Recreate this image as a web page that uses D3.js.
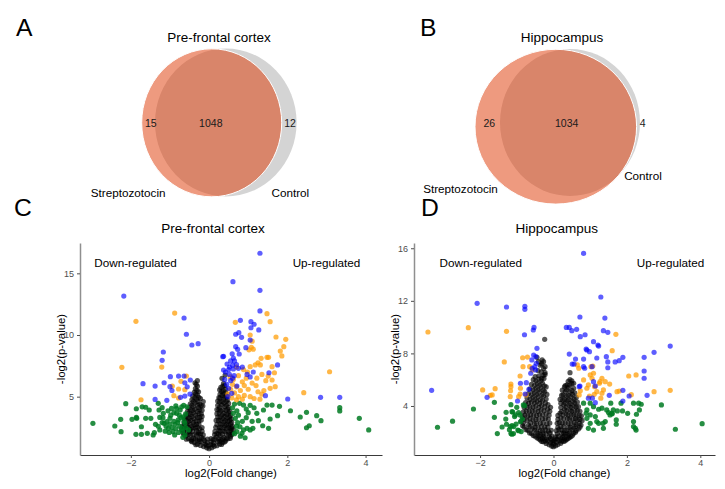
<!DOCTYPE html>
<html>
<head>
<meta charset="utf-8">
<script src="https://cdn.jsdelivr.net/npm/d3@7"></script>
<style>
  body { margin: 0; background: #fff; }
  text { font-family: "Liberation Sans", Arial, Helvetica, sans-serif; }
</style>
</head>
<body>
<svg width="725" height="489"></svg>
<script>
// ---- venn data ----
const vennSets = ["Streptozotocin", "Control"];
const pfcCounts = [15, 1048, 12];   // strep only, both, control only
const hipCounts = [26, 1034, 4];

// ---- volcano data: [log2 fold change, -log2 p] ----
const xTicks = [-2, 0, 2, 4];
const pfcYTicks = [5, 10, 15];
const hipYTicks = [4, 8, 12, 16];

const pfcBlack = [
  [0.00,0.78],[-0.06,0.85],[0.07,0.86],[-0.14,0.95],[0.13,0.97],[-0.22,1.05],[0.2,1.02],[-0.02,1.0],[0.04,1.12],
  [-0.3,1.15],[0.27,1.14],[-0.1,1.18],[0.12,1.25],[-0.38,1.28],[0.34,1.27],[-0.2,1.32],[0.22,1.36],[-0.46,1.42],
  [0.42,1.4],[-0.3,1.48],[0.3,1.5],[-0.12,1.45],[0.1,1.52],[-0.53,1.6],[0.48,1.58],[-0.4,1.65],[0.38,1.68],
  [-0.2,1.7],[0.18,1.72],[-0.6,1.82],[0.55,1.8],[-0.48,1.9],[0.45,1.92],[-0.32,1.88],[0.28,1.86],[-0.22,1.98],
  [0.2,2.0],[-0.66,2.05],[0.6,2.04],[-0.55,2.12],[0.5,2.15],[-0.42,2.18],[0.36,2.2],[-0.28,2.1],[0.25,2.24],
  [-0.7,2.32],[0.62,2.3],[-0.6,2.4],[0.54,2.42],[-0.48,2.35],[0.44,2.38],[-0.35,2.45],[0.3,2.5],[-0.24,2.4],
  [-0.68,2.62],[0.6,2.6],[-0.56,2.68],[0.5,2.7],[-0.44,2.6],[0.4,2.66],[-0.32,2.75],[0.28,2.8],
  [-0.64,2.9],[0.58,2.92],[-0.52,2.98],[0.48,3.0],[-0.4,2.92],[0.38,2.95],[-0.26,3.02],[0.24,3.05],
  [-0.62,3.2],[0.57,3.18],[-0.5,3.26],[0.46,3.28],[-0.38,3.2],[0.35,3.22],[-0.24,3.3],[0.22,3.35],
  [-0.58,3.5],[0.55,3.48],[-0.46,3.56],[0.45,3.58],[-0.34,3.5],[0.33,3.52],[-0.2,3.6],[0.2,3.62],
  [-0.55,3.82],[0.53,3.8],[-0.42,3.88],[0.43,3.9],[-0.3,3.8],[0.3,3.85],[-0.18,3.9],[0.2,3.95],
  [-0.52,4.1],[0.5,4.12],[-0.4,4.18],[0.4,4.2],[-0.27,4.12],[0.27,4.15],[-0.16,4.25],
  [-0.48,4.42],[0.5,4.45],[-0.36,4.5],[0.38,4.48],[-0.24,4.4],[0.27,4.55],[-0.15,4.6],
  [-0.44,4.75],[0.47,4.72],[-0.32,4.8],[0.37,4.82],[-0.22,4.85],[0.28,4.9],
  [-0.42,5.05],[0.45,5.02],[-0.3,5.12],[0.33,5.1],[-0.38,5.35],[0.43,5.3],[-0.27,5.4],[0.32,5.42],
  [-0.35,5.65],[0.42,5.62],[0.3,5.75],[-0.33,6.0],[0.37,6.08],[0.4,5.9],[-0.36,6.12],
  [-0.3,6.3],[0.33,6.49],[0.41,6.75],
  // denser fill of the V
  [-0.34,1.1],[-0.08,1.08],[0.1,1.1],[0.32,1.12],[-0.44,1.35],[-0.25,1.37],[-0.05,1.3],[0.05,1.33],[0.27,1.38],
  [0.39,1.33],[-0.58,1.55],[-0.45,1.53],[-0.35,1.57],[-0.25,1.54],[-0.15,1.58],[-0.04,1.56],[0.05,1.6],[0.15,1.55],
  [0.25,1.57],[0.35,1.53],[0.44,1.58],[0.54,1.62],[-0.64,1.95],[-0.52,1.97],[-0.4,1.93],[-0.27,1.96],[-0.15,1.9],
  [0.14,1.93],[0.24,1.97],[0.34,1.95],[0.5,1.98],[0.58,1.93],[-0.65,2.22],[-0.5,2.2],[-0.32,2.24],[-0.18,2.2],
  [0.15,2.18],[0.28,2.22],[0.4,2.2],[0.56,2.24],[-0.64,2.5],[-0.54,2.52],[-0.42,2.48],[-0.3,2.53],[-0.18,2.5],
  [0.17,2.52],[0.26,2.48],[0.38,2.52],[0.5,2.5],[0.58,2.47],[-0.62,2.76],[-0.5,2.78],[-0.38,2.74],[-0.26,2.77],
  [0.2,2.74],[0.33,2.78],[0.45,2.75],[0.55,2.79],[-0.58,3.06],[-0.46,3.08],[-0.33,3.04],[-0.2,3.1],[0.18,3.07],
  [0.3,3.1],[0.42,3.05],[0.53,3.08],[-0.56,3.36],[-0.44,3.38],[-0.3,3.34],[-0.18,3.4],[0.28,3.36],[0.4,3.4],
  [0.52,3.35],[-0.52,3.66],[-0.4,3.68],[-0.26,3.64],[0.26,3.68],[0.38,3.64],[0.5,3.68],[-0.48,3.96],[-0.36,3.98],
  [-0.24,3.95],[0.25,3.98],[0.36,3.94],[0.48,3.99],[-0.44,4.3],[-0.3,4.32],[-0.2,4.28],[0.22,4.3],[0.32,4.34],
  [0.44,4.3],[-0.4,4.62],[-0.28,4.6],[0.22,4.64],[0.33,4.6],[0.44,4.62],[-0.36,4.92],[-0.26,4.95],[0.25,4.92],
  [0.4,4.96],[-0.34,5.22],[0.28,5.2],[0.38,5.24],[-0.31,5.52],[0.36,5.5],[0.27,5.56],[-0.3,5.85],[0.35,5.86]
];
const pfcGreen = [
  [-2.97,2.84],[-2.41,2.62],[-2.25,2.16],[-2.26,3.16],[-2.13,4.43],[-1.97,3.16],[-1.87,1.95],[-1.86,4.02],
  [-1.86,3.32],[-1.73,2.56],[-1.73,1.95],[-1.71,4.18],[-1.62,4.14],[-1.62,3.24],[-1.53,3.92],[-1.49,3.24],
  [-1.43,1.89],[-1.37,2.76],[-1.28,3.92],[-1.26,3.32],[-1.26,2.30],[-1.17,3.65],[-1.15,2.84],[-1.08,2.97],
  [-1.04,2.43],[-1.0,3.24],[-0.96,4.05],[-0.92,2.16],[-0.87,2.76],[-0.83,3.65],[-0.79,3.11],[-0.74,3.92],
  [-0.70,2.43],[-0.67,1.70],[-0.66,3.37],[-0.62,2.84],[-0.57,4.18],[-0.53,2.30],[-1.30,4.46],[-1.20,4.11],
  [-0.83,4.05],[-0.70,4.18],[-1.85,3.24],[-1.58,2.03],[-1.40,2.08],
  [-1.3,2.6],[-1.2,2.9],[-1.1,2.6],[-1.0,2.8],[-0.95,2.5],[-0.9,3.0],[-0.85,2.4],[-0.8,2.9],[-0.75,2.6],
  [-0.72,3.3],[-0.68,2.2],[-0.64,3.0],[-0.6,2.5],[-1.12,2.2],[-1.02,2.1],[-0.88,1.9],[-0.78,2.1],[-0.62,1.9],
  [-1.18,3.3],[-0.98,3.5],[-0.9,3.7],[-0.76,3.5],[-0.6,3.6],[-1.05,3.85],[-0.85,4.25],[-0.65,4.3],
  [2.75,3.46],[2.86,3.05],[2.56,2.64],[2.49,2.48],[2.33,3.35],[2.49,3.73],[2.08,3.86],[1.80,4.22],[1.75,3.46],
  [1.56,3.19],[1.52,2.43],[1.37,2.64],[1.26,3.05],[1.22,3.65],[1.05,4.30],[0.88,4.32],[0.78,4.46],[0.71,3.86],
  [0.62,3.65],[0.67,3.24],[0.73,2.89],[0.79,2.56],[0.88,2.30],[0.97,2.43],[1.05,2.30],[0.92,1.67],[1.12,2.43],
  [0.84,2.03],[0.71,2.16],[1.39,3.92],[1.48,4.32],[1.61,4.32],[3.84,3.24],[3.34,4.11],[3.34,3.84],[4.08,2.3],
  [0.65,4.4],[0.7,2.6],[0.75,3.5],[0.85,3.0],[0.95,3.3],[1.0,3.7],[1.1,3.0],[0.65,2.0],[0.8,1.8],[1.15,4.1],
  [0.95,4.0],[0.6,4.1]
];
const pfcOrange = [
  [-0.88,11.78],[-1.87,11.11],[-2.23,7.38],[-1.21,7.4],[-0.58,6.67],[-0.94,5.86],[-0.72,6.24],[-0.78,5.62],
  [-0.9,5.08],[-0.78,4.89],[-1.74,4.75],[-0.62,5.57],
  [1.48,11.73],[1.56,11.08],[0.67,11.03],[1.71,9.84],[1.96,9.65],[1.91,9.05],[1.82,8.70],[1.86,8.30],
  [1.05,10.0],[1.1,9.5],[1.08,9.0],[1.02,8.8],[1.13,8.85],[1.33,8.11],[1.48,8.19],[1.52,8.19],[1.25,7.75],
  [1.31,7.57],[1.18,7.57],[1.05,7.43],[1.61,7.43],[1.67,6.94],[1.51,6.67],[1.61,6.35],[1.69,5.81],[1.56,5.68],
  [3.08,7.02],[2.42,5.32],
  [0.54,6.6],[0.62,6.4],[0.75,6.7],[0.85,6.2],[0.95,6.5],[0.6,6.0],[0.7,5.8],[0.8,5.5],[0.9,5.9],[1.0,5.6],
  [1.1,6.1],[1.2,5.9],[1.25,5.4],[1.35,5.2],[0.65,5.3],[0.75,5.0],[0.9,5.1],[1.05,5.0],[1.15,4.85],[1.3,4.8],
  [0.58,4.9],[0.7,4.75],[1.4,5.5],[1.45,6.3],[0.55,5.6],[0.48,5.2],[0.85,4.8],[1.22,6.5],[0.98,7.0],[0.88,7.2],
  [1.35,6.8],[0.7,7.4]
];
const pfcBlue = [
  [-2.18,13.16],[-0.64,11.38],[-0.58,10.06],[-0.44,9.19],[-0.28,9.3],[-1.17,8.62],[-1.20,7.95],[-1.69,6.05],
  [-1.38,5.86],[-1.15,6.13],[-0.99,6.62],[-1.0,5.81],[-0.78,6.67],[-0.64,6.67],[-0.62,6.13],[-0.48,6.35],
  [-1.38,4.78],[-1.08,4.7],[-0.62,5.05],[-0.49,5.21],[-0.73,4.95],[-0.56,5.8],[-0.95,5.5],
  [1.30,16.63],[0.61,14.32],[1.30,13.62],[1.30,11.95],[0.80,11.19],[1.07,11.08],[1.15,10.87],[1.07,10.59],
  [1.27,10.41],[0.76,10.19],[0.68,10.06],[0.83,9.81],[0.68,9.05],[0.94,8.97],[0.73,8.84],[1.05,9.59],
  [0.37,8.27],[0.59,8.48],[0.62,8.13],[0.77,8.46],[0.46,7.65],[0.52,7.4],[0.6,7.55],[0.5,7.2],[0.62,7.25],
  [0.75,7.3],[0.85,7.4],[0.7,7.6],[0.52,6.8],[0.6,6.5],[0.55,6.3],[0.64,6.7],[0.97,6.8],[1.05,6.6],[1.13,7.0],
  [1.53,6.94],[1.75,7.57],[0.71,5.86],[1.44,5.08],[2.01,4.81],[2.85,4.95],[3.34,4.95],[0.50,5.68],[0.58,5.27],
  [0.35,8.24],[0.37,7.16],[0.45,6.0],[0.48,5.0],[0.42,7.0],[0.4,6.4],[0.55,7.9],[0.65,7.9]
];

const hipBlack = [
  [0.0,0.9],[-0.05,0.95],[0.06,0.98],[-0.12,1.05],[0.12,1.06],[0.0,1.1],[-0.2,1.15],[0.2,1.16],[-0.08,1.2],
  [0.08,1.24],[-0.28,1.28],[0.28,1.3],[-0.16,1.35],[0.17,1.38],[-0.36,1.42],[0.36,1.45],[-0.04,1.4],[0.05,1.5],
  [-0.45,1.58],[0.44,1.6],[-0.25,1.55],[0.25,1.62],[-0.12,1.65],[0.14,1.7],[-0.55,1.75],[0.52,1.78],[-0.35,1.8],
  [0.34,1.85],[-0.2,1.88],[0.22,1.92],[-0.65,1.95],[0.6,2.0],[-0.46,2.02],[0.44,2.05],[-0.3,2.1],[0.3,2.12],
  [-0.14,2.08],[0.15,2.2],[-0.75,2.2],[0.68,2.25],[-0.58,2.28],[0.55,2.32],[-0.42,2.35],[0.4,2.38],[-0.24,2.4],
  [0.2,2.45],[-0.84,2.5],[0.75,2.55],[-0.68,2.55],[0.62,2.6],[-0.52,2.62],[0.48,2.65],[-0.36,2.68],[0.32,2.7],
  [-0.18,2.65],[0.16,2.75],[-0.88,2.85],[0.78,2.9],[-0.72,2.9],[0.65,2.95],[-0.56,2.95],[0.52,3.0],[-0.4,3.0],
  [0.38,3.05],[-0.22,3.05],[0.2,3.1],[-0.85,3.2],[0.76,3.25],[-0.7,3.25],[0.62,3.3],[-0.54,3.3],[0.48,3.35],
  [-0.38,3.35],[0.34,3.4],[-0.2,3.4],[0.18,3.45],[-0.82,3.55],[0.72,3.6],[-0.66,3.6],[0.58,3.65],[-0.5,3.65],
  [0.45,3.7],[-0.34,3.7],[0.3,3.75],[-0.16,3.75],[-0.8,3.9],[0.68,3.95],[-0.64,3.95],[0.55,4.0],[-0.48,4.0],
  [0.42,4.05],[-0.32,4.05],[0.28,4.1],[-0.15,4.1],[-0.76,4.25],[0.65,4.3],[-0.6,4.3],[0.52,4.35],[-0.45,4.35],
  [0.38,4.4],[-0.3,4.4],[0.25,4.45],[-0.72,4.6],[0.62,4.65],[-0.56,4.65],[0.48,4.7],[-0.42,4.7],[0.35,4.75],
  [-0.27,4.75],[0.22,4.8],[-0.68,4.95],[0.58,5.0],[-0.52,5.0],[0.45,5.05],[-0.38,5.05],[0.32,5.1],[-0.24,5.1],
  [-0.64,5.3],[0.55,5.35],[-0.48,5.35],[0.4,5.4],[-0.34,5.4],[0.3,5.45],[-0.2,5.45],[-0.6,5.65],[0.5,5.7],
  [-0.44,5.7],[0.37,5.6],[-0.3,5.75],[0.55,5.73],[-0.55,6.0],[-0.4,6.05],[-0.26,6.1],[0.45,6.0],[-0.5,6.23],
  [-0.32,6.11],[-0.23,6.4],[-0.23,6.53],[0.45,6.53],[-0.42,6.7],[-0.27,6.85],[-0.23,6.99],[-0.36,7.1],
  [-0.27,7.37],[-0.41,7.37],[-0.31,7.5],[-0.45,7.7],[-0.24,9.07],
  // denser fill of the V
  [-0.32,1.3],[-0.22,1.33],[-0.02,1.28],[0.02,1.35],[0.22,1.32],[0.32,1.36],[-0.4,1.5],[-0.3,1.52],[-0.18,1.48],
  [-0.08,1.53],[0.1,1.47],[0.2,1.52],[0.3,1.5],[0.4,1.53],[-0.5,1.7],[-0.4,1.72],[-0.28,1.68],[-0.05,1.72],
  [0.06,1.66],[0.28,1.7],[0.4,1.73],[0.48,1.68],[-0.6,1.9],[-0.42,1.92],[-0.28,1.88],[-0.1,1.93],[0.1,1.88],
  [0.28,1.93],[0.4,1.9],[0.55,1.92],[-0.7,2.15],[-0.52,2.17],[-0.36,2.13],[-0.22,2.18],[-0.06,2.15],[0.08,2.12],
  [0.22,2.17],[0.36,2.14],[0.5,2.18],[0.62,2.13],[-0.8,2.4],[-0.64,2.42],[-0.5,2.38],[-0.33,2.43],[-0.15,2.4],
  [0.12,2.38],[0.28,2.42],[0.46,2.4],[0.6,2.44],[0.72,2.38],[-0.82,2.7],[-0.62,2.72],[-0.46,2.68],[-0.28,2.73],
  [-0.1,2.7],[0.1,2.68],[0.24,2.72],[0.4,2.7],[0.56,2.74],[0.7,2.68],[-0.8,3.0],[-0.64,3.03],[-0.48,2.98],
  [-0.3,3.02],[-0.14,3.0],[0.12,2.98],[0.28,3.02],[0.44,3.0],[0.6,3.03],[0.72,2.98],[-0.78,3.3],[-0.62,3.32],
  [-0.46,3.28],[-0.3,3.33],[-0.12,3.3],[0.12,3.28],[0.26,3.32],[0.4,3.3],[0.55,3.33],[0.7,3.28],[-0.74,3.6],
  [-0.58,3.62],[-0.42,3.58],[-0.26,3.63],[-0.1,3.6],[0.22,3.58],[0.36,3.62],[0.5,3.6],[0.65,3.63],[-0.72,3.9],
  [-0.56,3.92],[-0.4,3.88],[-0.24,3.93],[-0.08,3.9],[0.2,3.88],[0.34,3.92],[0.48,3.9],[0.62,3.93],[-0.68,4.2],
  [-0.52,4.22],[-0.38,4.18],[-0.22,4.23],[0.2,4.2],[0.32,4.22],[0.45,4.18],[0.58,4.22],[-0.64,4.5],[-0.5,4.52],
  [-0.36,4.48],[-0.2,4.53],[0.18,4.5],[0.3,4.52],[0.42,4.48],[0.56,4.53],[-0.6,4.85],[-0.46,4.87],[-0.32,4.83],
  [-0.18,4.88],[0.26,4.85],[0.4,4.83],[0.52,4.88],[-0.56,5.2],[-0.42,5.22],[-0.28,5.18],[0.24,5.2],[0.36,5.23],
  [0.5,5.18],[-0.52,5.55],[-0.38,5.57],[-0.25,5.53],[0.32,5.55],[0.44,5.58],[-0.48,5.9],[-0.34,5.92],[0.4,5.88],
  [0.5,5.92],[-0.4,6.3],[-0.28,6.32],[-0.33,6.6],[-0.32,7.2]
];
const hipGreen = [
  [-3.16,2.38],[-2.75,2.84],[-2.18,3.77],[-1.61,4.28],[-1.61,3.14],[-1.53,1.90],[-1.16,4.10],[-1.29,3.52],
  [-1.11,3.54],[-0.95,3.49],[-0.91,3.32],[-1.06,3.19],[-1.28,2.61],[-1.13,2.50],[-1.02,2.63],[-1.08,2.43],
  [-0.97,2.17],[-0.88,2.05],[-1.16,1.90],[-1.09,1.90],[-0.79,4.02],[-1.3,3.0],[-1.2,2.2],[-0.9,2.8],[-1.0,3.9],
  [-1.4,2.4],[-0.85,3.0],[-1.13,3.57],[-1.04,3.32],[-1.18,2.43],[-0.95,2.12],[-1.13,1.85],[-0.82,4.08],
  [4.05,2.65],[3.32,2.23],[2.94,4.08],[2.39,4.13],[2.34,3.70],[2.26,3.37],[2.18,2.81],[2.23,2.30],[2.32,4.21],
  [2.18,4.21],[2.02,3.44],[1.88,3.62],[1.84,4.21],[1.74,3.62],[1.63,3.70],[1.59,3.44],[1.54,3.32],[1.56,4.21],
  [1.45,3.70],[1.32,3.83],[1.23,3.75],[1.14,3.19],[1.0,3.32],[0.91,3.06],[0.89,3.44],[0.82,4.21],[1.0,2.68],
  [1.09,2.17],[1.35,2.68],[1.41,2.81],[1.71,2.94],[1.71,2.61],[1.36,2.30],[1.23,2.68],[1.0,4.21],[0.91,3.70],
  [2.18,2.43],[2.25,2.17],[1.09,3.95],[1.18,2.81],[1.5,3.5],[1.6,3.4],[0.95,2.3]
];
const hipOrange = [
  [-3.42,9.63],[-2.32,9.96],[-1.28,9.68],[-0.84,7.67],[-0.71,7.72],[-1.34,7.35],[-0.83,6.99],[-0.65,6.99],
  [-0.58,6.74],[-0.91,6.28],[-1.16,5.67],[-1.16,5.47],[-0.90,5.35],[-1.59,5.32],[-1.93,5.22],[-1.72,4.81],
  [-1.67,4.84],[-1.17,5.16],[-1.18,4.71],[-0.91,4.91],[-0.95,4.71],[-0.75,4.84],
  [1.70,9.45],[1.60,8.21],[1.02,6.99],[1.07,7.04],[0.69,6.87],[0.65,7.12],[0.82,5.98],[1.0,6.36],[1.05,6.11],
  [1.32,6.11],[1.25,5.73],[1.53,5.67],[1.41,5.85],[0.95,5.60],[0.91,5.35],[1.12,5.47],[1.18,5.09],[1.32,4.97],
  [1.36,5.22],[1.73,5.09],[1.79,5.14],[2.12,4.86],[1.29,4.59],[1.11,4.89],[0.98,4.76],[0.73,5.16],[0.70,4.84],
  [2.05,6.28],[2.25,6.36],[2.74,5.09],[3.18,5.19],[1.09,6.49],[1.27,5.85]
];
const hipBlue = [
  [-2.08,11.81],[-1.28,11.53],[-0.78,11.58],[-0.78,11.35],[-0.53,9.98],[-0.55,9.78],[-0.79,9.42],[-0.45,8.39],
  [-0.54,7.88],[-0.48,7.75],[-0.59,7.50],[-0.47,7.25],[-0.51,6.99],[-0.58,6.87],[-0.49,6.74],[-0.62,6.49],
  [-0.90,5.73],[-0.74,5.77],[-0.67,5.27],[-0.77,4.91],[-0.98,4.38],[-1.81,4.66],[-3.32,5.19],
  [0.82,15.61],[1.29,12.29],[0.72,10.77],[1.40,10.69],[0.35,9.98],[0.43,9.98],[0.50,9.73],[0.63,9.83],
  [0.86,9.42],[0.73,9.27],[1.36,9.73],[1.48,9.60],[1.09,8.89],[1.23,8.56],[0.89,8.33],[0.98,8.13],[0.43,7.95],
  [0.60,7.57],[0.82,7.57],[1.18,7.65],[1.44,7.75],[1.48,7.35],[1.68,7.35],[1.79,7.45],[1.89,7.70],[0.51,7.19],
  [0.56,7.19],[0.82,6.99],[0.85,6.87],[1.05,6.99],[1.48,6.91],[2.47,7.70],[2.74,8.08],[3.18,8.56],[2.47,6.66],
  [2.47,6.11],[2.55,4.81],[1.89,5.19],[2.06,4.76],[1.52,4.81],[0.72,5.52],[1.09,5.85],[1.14,5.52],[0.95,4.59],
  [1.06,4.59],[0.70,5.47],[1.14,4.25],[1.89,4.38],[0.91,8.26],[1.21,8.64]
];

const svg = d3.select("svg");

// panel letters
[["A", 16, 36], ["B", 420, 36], ["C", 14, 215.5], ["D", 421, 215.5]].forEach(([t, x, y]) => {
  svg.append("text").attr("x", x).attr("y", y).attr("font-size", 24.7).attr("fill", "#000").text(t);
});

// ---------- venn diagrams ----------
function drawVenn(v) {
  const g = svg.append("g");
  g.append("text").attr("x", v.titleX).attr("y", 41.5).attr("text-anchor", "middle")
    .attr("font-size", 13.5).text(v.title);
  // control underneath, streptozotocin on top, half transparent
  g.append("ellipse").attr("cx", v.ctrl[0]).attr("cy", v.ctrl[1]).attr("rx", v.ctrl[2]).attr("ry", v.ctrl[3])
    .attr("fill", "#d4d4d4");
  g.append("ellipse").attr("cx", v.strep[0]).attr("cy", v.strep[1]).attr("rx", v.strep[2]).attr("ry", v.strep[3])
    .attr("fill", "rgb(221,53,0)").attr("fill-opacity", 0.5).attr("stroke", "#fff").attr("stroke-width", 1);
  v.counts.forEach((c, i) => {
    g.append("text").attr("x", v.countX[i]).attr("y", 127).attr("text-anchor", "middle")
      .attr("font-size", 10.5).attr("fill", "#1a1a1a").text(c);
  });
  vennSets.forEach((s, i) => {
    g.append("text").attr("x", v.setPos[i][0]).attr("y", v.setPos[i][1]).attr("text-anchor", "middle")
      .attr("font-size", 11.7).text(s);
  });
}

drawVenn({
  title: "Pre-frontal cortex", titleX: 219, counts: pfcCounts,
  strep: [211.7, 122.8, 70, 74], ctrl: [225.8, 122.5, 70.8, 74],
  countX: [150.8, 210.8, 290], setPos: [[128.2, 197], [290.3, 197]]
});
drawVenn({
  title: "Hippocampus", titleX: 562, counts: hipCounts,
  strep: [555.8, 126.7, 80.8, 77.4], ctrl: [570, 122.5, 70, 73.5],
  countX: [489.3, 566.7, 642.7], setPos: [[460.5, 193], [643, 179.5]]
});

// ---------- volcano plots ----------
const fmt = d => d < 0 ? "\u2212" + Math.abs(d) : String(d);

function drawVolcano(p) {
  const x = d3.scaleLinear().domain(p.xDomain).range(p.xRange);
  const y = d3.scaleLinear().domain(p.yDomain).range([455, 243]);
  const g = svg.append("g");

  const groups = [
    { pts: p.black, fill: "#000", op: 0.66 },
    { pts: p.green, fill: "#007a22", op: 0.85 },
    { pts: p.orange, fill: "#ff9b00", op: 0.72 },
    { pts: p.blue, fill: "#0000ff", op: 0.63 }
  ];
  groups.forEach(gr => {
    g.append("g").selectAll("circle").data(gr.pts).enter().append("circle")
      .attr("cx", d => x(d[0])).attr("cy", d => y(d[1])).attr("r", 2.6)
      .attr("fill", gr.fill).attr("fill-opacity", gr.op);
  });

  const xa = g.append("g").attr("transform", "translate(0,455)")
    .call(d3.axisBottom(x).tickValues(xTicks).tickFormat(fmt).tickSize(3).tickSizeOuter(0).tickPadding(1.5));
  const ya = g.append("g").attr("transform", `translate(${p.xRange[0]},0)`)
    .call(d3.axisLeft(y).tickValues(p.yTicks).tickSize(3).tickSizeOuter(0).tickPadding(3));
  xa.select(".domain").attr("stroke", "#3a3a3a").attr("stroke-width", 1.1);
  ya.select(".domain").attr("stroke", "#8f8f8f").attr("stroke-width", 1.5);
  [xa, ya].forEach(a => {
    a.selectAll(".tick line").attr("stroke", "#4d4d4d");
    a.selectAll(".tick text").attr("fill", "#4d4d4d").attr("font-size", 9)
      .attr("font-family", '"Liberation Sans", Arial, sans-serif');
  });

  g.append("text").attr("x", p.titleX).attr("y", 232.5).attr("text-anchor", "middle")
    .attr("font-size", 13.5).text(p.title);
  g.append("text").attr("x", (p.xRange[0] + p.xRange[1]) / 2).attr("y", 477).attr("text-anchor", "middle")
    .attr("font-size", 11.4).text("log2(Fold change)");
  g.append("text").attr("transform", `translate(${p.yLabX},349) rotate(-90)`).attr("text-anchor", "middle")
    .attr("font-size", 11.4).text("-log2(p-value)");
  p.notes.forEach(n => {
    g.append("text").attr("x", x(n[0])).attr("y", y(n[1])).attr("text-anchor", "middle")
      .attr("font-size", 11.7).text(n[2]);
  });
}

drawVolcano({
  title: "Pre-frontal cortex", titleX: 213, xDomain: [-3.3, 4.42], xRange: [80, 382],
  yDomain: [0.27, 17.46], yTicks: pfcYTicks, yLabX: 65,
  black: pfcBlack, green: pfcGreen, orange: pfcOrange, blue: pfcBlue,
  notes: [[-1.88, 15.53, "Down-regulated"], [3.0, 15.53, "Up-regulated"]]
});
drawVolcano({
  title: "Hippocampus", titleX: 556.7, xDomain: [-3.8, 4.4], xRange: [414, 715],
  yDomain: [0.27, 16.4], yTicks: hipYTicks, yLabX: 399,
  black: hipBlack, green: hipGreen, orange: hipOrange, blue: hipBlue,
  notes: [[-1.98, 14.59, "Down-regulated"], [3.19, 14.59, "Up-regulated"]]
});
</script>
</body>
</html>
